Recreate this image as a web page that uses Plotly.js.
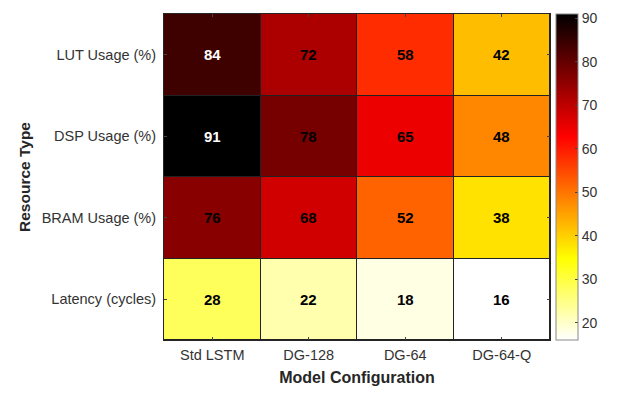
<!DOCTYPE html>
<html>
<head>
<meta charset="utf-8">
<script src="https://cdn.plot.ly/plotly-3.0.1.min.js"></script>
<style>body{margin:0;background:#fff}</style>
</head>
<body>
<div id="chart" style="width:619px;height:399px"></div>
<script>
// model configurations (columns) and resource types (rows)
var models = ['Std LSTM', 'DG-128', 'DG-64', 'DG-64-Q'];
var resources = ['LUT Usage (%)', 'DSP Usage (%)', 'BRAM Usage (%)', 'Latency (cycles)'];

var lutUsage = [84, 72, 58, 42];
var dspUsage = [91, 78, 65, 48];
var bramUsage = [76, 68, 52, 38];
var latency = [28, 22, 18, 16];

var z = [lutUsage, dspUsage, bramUsage, latency];

// flipped "hot" colormap: white -> yellow -> red -> black
var hotFlip = [
    [0, '#ffffff'],
    [0.25, '#ffff00'],
    [0.625, '#ff0000'],
    [1, '#000000']
];

var annotations = [];
for (var i = 0; i < resources.length; i++) {
    for (var j = 0; j < models.length; j++) {
        annotations.push({
            x: models[j], y: resources[i],
            text: '<b>' + z[i][j] + '</b>',
            showarrow: false,
            font: {family: 'Liberation Sans, Arial', size: 15, color: z[i][j] > 80 ? '#ffffff' : '#000000'}
        });
    }
}

var heat = {
    z: z,
    x: models,
    y: resources,
    type: 'heatmap',
    colorscale: hotFlip,
    zmin: 16,
    zmax: 91,
    xgap: 1,
    ygap: 1,
    hoverinfo: 'none',
    colorbar: {
        x: 1.016, xanchor: 'left', xpad: 0, ypad: 0,
        y: 0.5, len: 1, lenmode: 'fraction',
        thickness: 22, thicknessmode: 'pixels',
        outlinecolor: '#888888', outlinewidth: 1,
        ticks: 'inside', ticklen: 3, tickcolor: '#444',
        tickvals: [20, 30, 40, 50, 60, 70, 80, 90],
        tickfont: {family: 'Liberation Sans, Arial', size: 14, color: '#333333'}
    }
};

var layout = {
    width: 619,
    height: 399,
    margin: {l: 164, r: 69, t: 14, b: 59},
    paper_bgcolor: '#ffffff',
    plot_bgcolor: '#222222',
    font: {family: 'Liberation Sans, Arial', size: 14.5, color: '#333333'},
    xaxis: {
        title: {text: '<b>Model Configuration</b>', font: {size: 16, color: '#262626'}, standoff: 9},
        showline: true, mirror: 'ticks', linecolor: '#262626', linewidth: 1,
        ticks: 'inside', ticklen: 3, tickcolor: '#444',
        ticklabelstandoff: 2,
        showgrid: false, zeroline: false
    },
    yaxis: {
        title: {text: '<b>Resource Type</b>', font: {size: 15.5, color: '#262626'}, standoff: 7},
        autorange: 'reversed',
        showline: true, mirror: 'ticks', linecolor: '#262626', linewidth: 1,
        ticks: 'inside', ticklen: 3, tickcolor: '#444',
        ticklabelstandoff: 4,
        showgrid: false, zeroline: false
    },
    annotations: annotations
};

Plotly.newPlot('chart', [heat], layout, {displayModeBar: false});
</script>
</body>
</html>
